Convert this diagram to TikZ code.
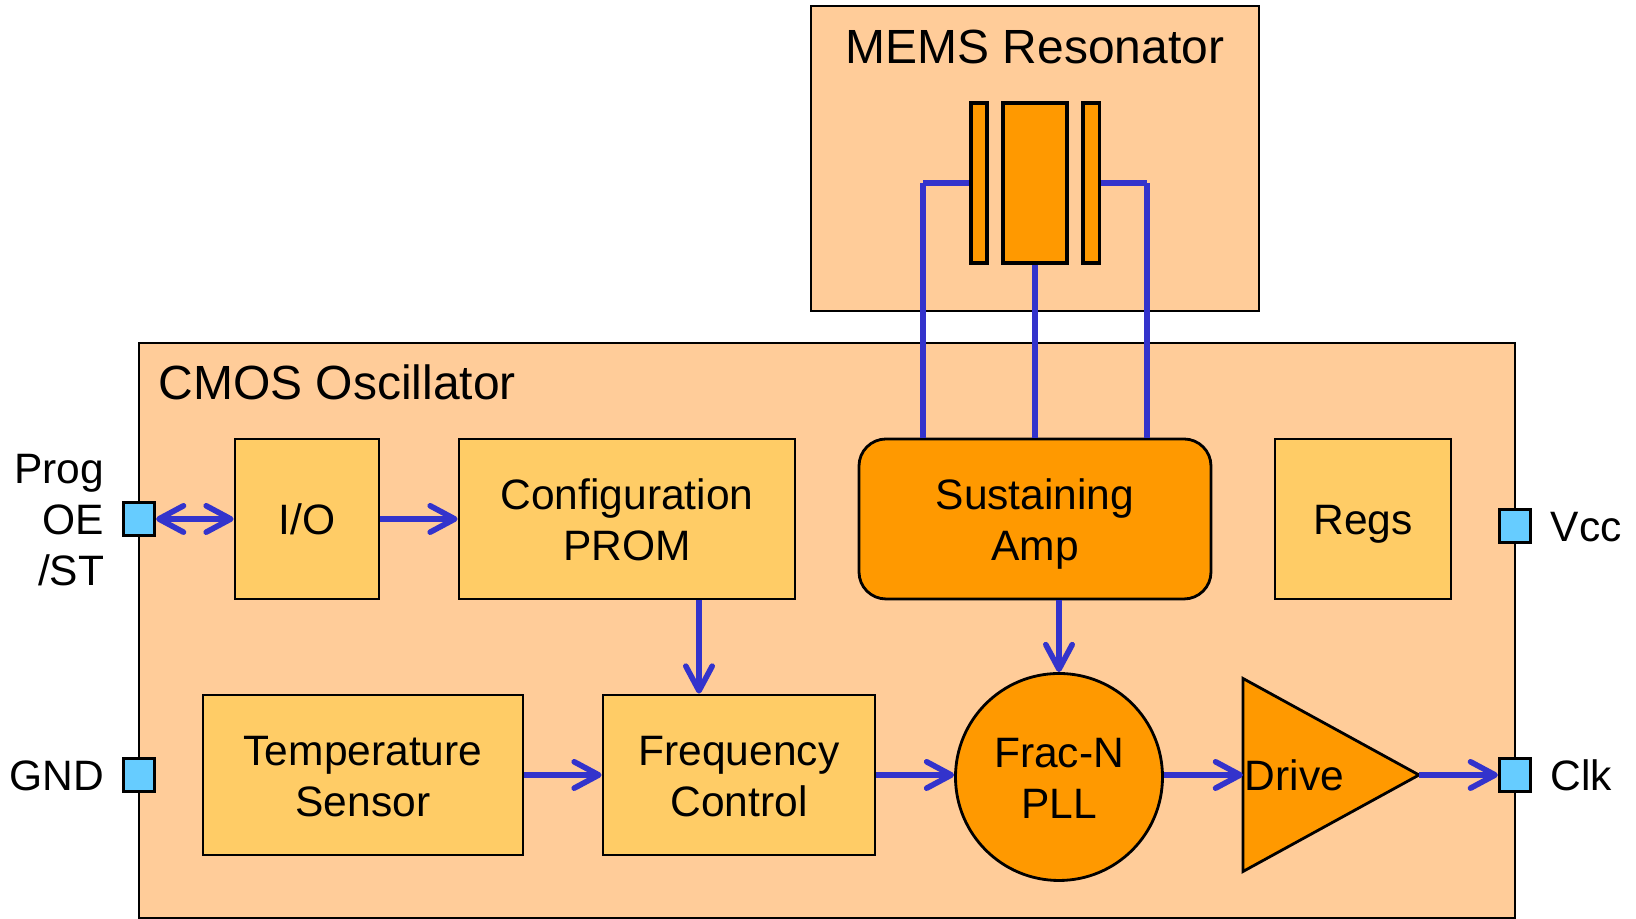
\documentclass[tikz,border=0pt]{standalone}
\usepackage{fontspec}
\setmainfont{Liberation Sans}
\usepackage{tikz}
\usetikzlibrary{arrows.meta}
\usetikzlibrary{positioning}
\usetikzlibrary{shapes.geometric}
\definecolor{chipbg}{HTML}{FFCC99}
\definecolor{blockyellow}{HTML}{FFCC66}
\definecolor{blockorange}{HTML}{FF9900}
\definecolor{wireblue}{HTML}{3333CC}
\definecolor{padblue}{HTML}{66CCFF}
\tikzset{
  every node/.style={font=\fontsize{12.1}{14.5}\selectfont, align=center, inner sep=0pt, text height=9pt, text depth=0.4pt},
  twolines/.style={text height=24pt},
  threelines/.style={text height=38pt},
  heading/.style={font=\fontsize{13.65}{16}\selectfont},
  chip/.style={draw, line width=0.8pt, fill=chipbg},
  block/.style={draw, line width=0.8pt, fill=blockyellow, minimum height=1.6cm},
  plate/.style={draw, line width=1pt, fill=blockorange, minimum height=1.6cm},
  pad/.style={draw, line width=0.9pt, fill=padblue, minimum size=0.31cm},
  wire/.style={wireblue, line width=1.6pt},
  sig/.style={wire, -{Straight Barb[round, length=7pt, width=7.5pt]}},
  bisig/.style={wire, {Straight Barb[round, length=7pt, width=7.5pt]}-{Straight Barb[round, length=7pt, width=7.5pt]}}
}

\begin{document}
\begin{tikzpicture}
\useasboundingbox (0,0) rectangle (16.36,9.19);

\node (cmos) at (8.27,2.885) [chip, minimum width=13.76cm, minimum height=5.75cm] {};
\node (cmoslabel) at (1.58,5.35) [right, heading] {CMOS Oscillator};

\node (mems) at (10.35,7.605) [chip, minimum width=4.48cm, minimum height=3.05cm] {};
\node (memslabel) at (10.35,8.71) [heading] {MEMS Resonator};

\node (platel) at (9.79,7.36) [plate, minimum width=0.165cm] {};
\node (beam) at (10.35,7.36) [plate, minimum width=0.64cm] {};
\node (plater) at (10.91,7.36) [plate, minimum width=0.165cm] {};

% top row
\node (io) at (3.07,4.00) [block, minimum width=1.44cm] {I/O};
\node (prom) at (6.27,4.00) [block, twolines, minimum width=3.36cm] {Configuration\\PROM};
\node (amp) at (10.35,4.00) [block, twolines, fill=blockorange, rounded corners=0.27cm, minimum width=3.52cm] {Sustaining\\Amp};
\node (regs) at (13.63,4.00) [block, minimum width=1.76cm] {Regs};

% bottom row
\node (temp) at (3.63,1.44) [block, twolines, minimum width=3.20cm] {Temperature\\Sensor};
\node (freq) at (7.39,1.44) [block, twolines, minimum width=2.72cm] {Frequency\\Control};
\node (pll) at (10.59,1.42) [circle, twolines, draw, line width=0.8pt, fill=blockorange, minimum size=2.07cm] {Frac-N\\PLL};
\node (drive) at (12.43,1.44) [isosceles triangle, isosceles triangle stretches, draw, line width=0.8pt, fill=blockorange, outer sep=0pt, minimum height=1.76cm, minimum width=1.93cm, anchor=lower side] {};
\node (drivelabel) at (12.44,1.44) [right] {Drive};

% pads
\node (prog) at (1.39,4.00) [pad] {};
\node (gnd) at (1.39,1.44) [pad] {};
\node (vcc) at (15.15,3.93) [pad] {};
\node (clk) at (15.15,1.44) [pad] {};
\node (proglabel) at (prog.west) [left=0.17cm, threelines, align=right] {Prog\\OE\\/ST};
\node (gndlabel) at (gnd.west) [left=0.17cm] {GND};
\node (vcclabel) at (vcc.east) [right=0.18cm] {Vcc};
\node (clklabel) at (clk.east) [right=0.18cm] {Clk};

\coordinate (wirel) at (9.23,7.36);
\coordinate (wirer) at (11.47,7.36);
\coordinate (promout) at (6.99,3.20);

% resonator to amp
\draw[wire] (platel.west) -- (wirel);
\draw[wire] (wirel) -- (wirel |- amp.north);
\draw[wire] (beam.south) -- (amp.north);
\draw[wire] (plater.east) -- (wirer);
\draw[wire] (wirer) -- (wirer |- amp.north);

\draw[bisig] (prog.east) -- (io.west);
\draw[sig] (io.east) -- (prom.west);
\draw[sig] (promout |- prom.south) -- (promout |- freq.north);
\draw[sig] (pll.north |- amp.south) -- (pll.north);
\draw[sig] (temp.east) -- (freq.west);
\draw[sig] (freq.east) -- (pll.west |- freq.east);
\draw[sig] (pll.east |- drive.lower side) -- (drive.lower side);
\draw[sig] (drive.apex) -- (clk.west);

\end{tikzpicture}
\end{document}
